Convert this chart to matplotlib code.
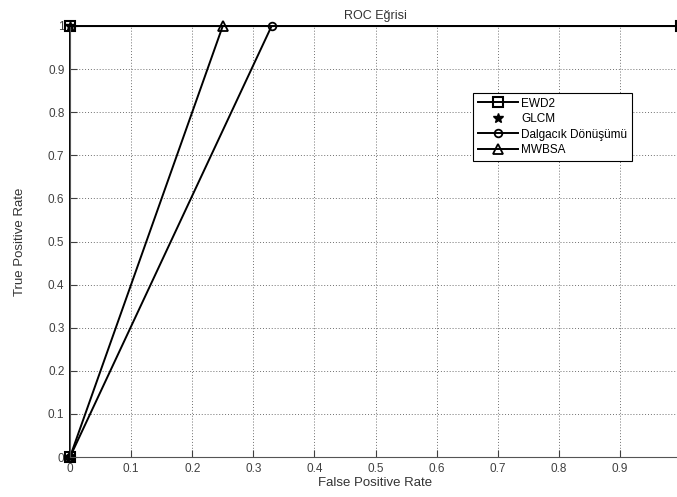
import matplotlib.pyplot as plt

plt.rcParams['font.family'] = ['Liberation Sans', 'DejaVu Sans']

ewd2_x = [0, 0, 1]
ewd2_y = [0, 1, 1]
glcm_x = [0, 0]
glcm_y = [0, 1]
dalga_x = [0, 0.33, 1]
dalga_y = [0, 1, 1]
mwbsa_x = [0, 0.25, 1]
mwbsa_y = [0, 1, 1]

ticks = [0, 0.1, 0.2, 0.3, 0.4, 0.5, 0.6, 0.7, 0.8, 0.9, 1]
xtick_labels = ['0', '0.1', '0.2', '0.3', '0.4', '0.5', '0.6', '0.7', '0.8', '0.9', '']
ytick_labels = ['0', '0.1', '0.2', '0.3', '0.4', '0.5', '0.6', '0.7', '0.8', '0.9', '1']

fig = plt.figure(figsize=(6.77, 4.97), dpi=100)
ax = fig.add_axes([70 / 677, 1 - 457 / 497, 611 / 677, 431 / 497])

ax.plot(ewd2_x, ewd2_y, color='black', marker='s', ms=6.5, mfc='none', mew=1.5, lw=1.4, label='EWD2', clip_on=False)
ax.plot(glcm_x, glcm_y, color='black', marker='*', ms=7.5, ls='none', label='GLCM', clip_on=False)
ax.plot(dalga_x, dalga_y, color='black', marker='o', ms=5.5, mfc='none', mew=1.3, lw=1.4, label='Dalgacık Dönüşümü', clip_on=False)
ax.plot(mwbsa_x, mwbsa_y, color='black', marker='^', ms=6.5, mfc='none', mew=1.3, lw=1.4, label='MWBSA', clip_on=False)

ax.set_xlim(0, 1)
ax.set_ylim(0, 1)
ax.set_xticks(ticks)
ax.set_xticklabels(xtick_labels)
ax.set_yticks(ticks)
ax.set_yticklabels(ytick_labels)
ax.tick_params(direction='in', length=5, labelsize=8.5, colors='#404040', pad=4)
ax.grid(True, ls=(0, (1, 2)), color='#707070', lw=0.7)
for s in ['left', 'bottom']:
    ax.spines[s].set_color('#555555')
ax.spines['top'].set_color('black')

ax.set_title('ROC Eğrisi', fontsize=9, color='#333333', pad=5)
ax.set_xlabel('False Positive Rate', fontsize=9.5, color='#333333', labelpad=2)
ax.set_ylabel('True Positive Rate', fontsize=9.5, color='#333333', labelpad=16)

leg = ax.legend(loc='upper left', bbox_to_anchor=(0.66, 0.845), fontsize=8.5,
                fancybox=False, framealpha=1, edgecolor='black', borderaxespad=0,
                handlelength=3.4, handletextpad=0.25, labelspacing=0.3, borderpad=0.4)
leg.get_frame().set_linewidth(0.8)

fig.savefig('out.png', dpi=100)
